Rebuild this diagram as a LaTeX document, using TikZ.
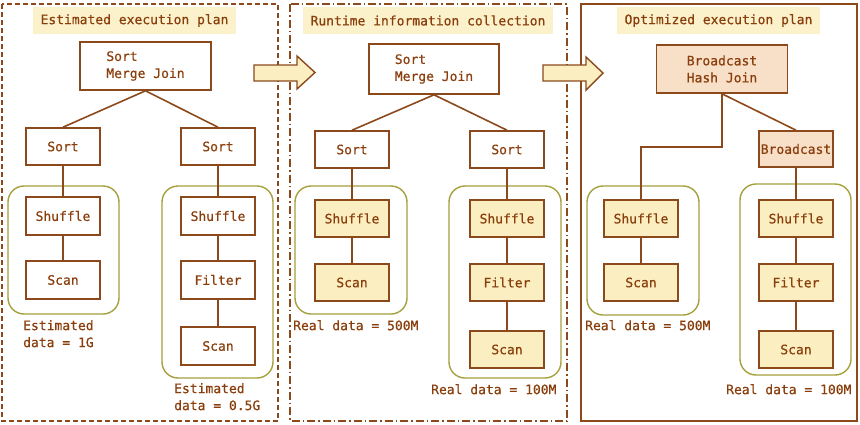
\documentclass[tikz,border=0pt]{standalone}
\usepackage{fontspec}
\newfontfamily\opfont{DejaVu Sans Mono}[FakeBold=0.6]
\definecolor{txt}{HTML}{8A3E0C}
\definecolor{edge}{HTML}{8C4A1C}
\definecolor{ylw}{HTML}{FBEFC2}
\definecolor{peach}{HTML}{F8E0C8}
\definecolor{olive}{HTML}{A4A03C}
\definecolor{ttl}{HTML}{FBF2CC}
\tikzset{
  lbl/.style={font=\opfont\fontsize{13}{17}\selectfont, text=txt},
  opbox/.style={lbl, draw=edge, line width=1.6pt, inner sep=0pt, minimum width=74pt, minimum height=37pt},
  ybox/.style={opbox, fill=ylw},
  pbox/.style={opbox, fill=peach},
  titlebox/.style={lbl, fill=ttl, inner sep=0pt, minimum width=203pt, minimum height=27pt},
  cont/.style={draw=olive, line width=1.4pt, rounded corners=16pt},
  conn/.style={draw=edge, line width=1.6pt},
  note/.style={lbl, anchor=north west, align=left, inner sep=0pt},
  blockarrow/.style={fill=ylw, draw=edge, line width=1.4pt, line join=miter},
}
\begin{document}
\begin{tikzpicture}[x=1pt,y=-1pt]
\useasboundingbox (0,0) rectangle (860,424);
% panels
\draw[edge, line width=1.3pt, dash pattern=on 5pt off 3pt] (2,4) rectangle (278,421);
\draw[edge, line width=1.3pt, dash pattern=on 8pt off 3pt on 1.5pt off 3pt] (290,4) rectangle (567,421);
\draw[edge, line width=1.4pt] (581,4) rectangle (857,421);
% containers
\draw[cont] (8,186) rectangle (119,314);
\draw[cont] (162,186) rectangle (273,378);
\draw[cont] (295,186) rectangle (407,314);
\draw[cont] (449,186) rectangle (561,378);
\draw[cont] (587,186) rectangle (699,315);
\draw[cont] (740,184) rectangle (851,375);
% titles
\node[titlebox] (t1) at (134.5,20.5) {Estimated execution plan};
\node[titlebox, minimum width=250pt] (t2) at (428,20.5) {Runtime information collection};
\node[titlebox] (t3) at (718.5,20.5) {Optimized execution plan};
% panel 1
\node[opbox, minimum width=131pt, minimum height=48pt, align=left] (smj1) at (145.5,66) {Sort\\Merge Join};
\node[opbox] (sortL1) at (63,146.5) {Sort};
\node[opbox] (sortR1) at (218,146.5) {Sort};
\node[opbox, minimum height=38pt] (shufL1) at (63,216) {Shuffle};
\node[opbox, minimum height=38pt] (scanL1) at (63,280) {Scan};
\node[opbox, minimum height=38pt] (shufR1) at (218,216) {Shuffle};
\node[opbox, minimum height=38pt] (filtR1) at (218,280) {Filter};
\node[opbox, minimum height=38pt] (scanR1) at (218,346) {Scan};
\node[note] (n1) at (23,320) {Estimated\\data = 1G};
\node[note] (n2) at (174,383) {Estimated\\data = 0.5G};
\draw[conn] (smj1.south) -- (sortL1.north);
\draw[conn] (smj1.south) -- (sortR1.north);
\draw[conn] (sortL1) -- (shufL1);
\draw[conn] (shufL1) -- (scanL1);
\draw[conn] (sortR1) -- (shufR1);
\draw[conn] (shufR1) -- (filtR1);
\draw[conn] (filtR1) -- (scanR1);
% panel 2
\node[opbox, minimum width=130pt, minimum height=50pt, align=left] (smj2) at (434,69) {Sort\\Merge Join};
\node[opbox] (sortL2) at (352,149.5) {Sort};
\node[opbox] (sortR2) at (507,149.5) {Sort};
\node[ybox] (shufL2) at (352,218.5) {Shuffle};
\node[ybox] (scanL2) at (352,282.5) {Scan};
\node[ybox] (shufR2) at (507,218.5) {Shuffle};
\node[ybox] (filtR2) at (507,282.5) {Filter};
\node[ybox] (scanR2) at (507,349.5) {Scan};
\node[note] (n3) at (293,320) {Real data = 500M};
\node[note] (n4) at (431,384) {Real data = 100M};
\draw[conn] (smj2.south) -- (sortL2.north);
\draw[conn] (smj2.south) -- (sortR2.north);
\draw[conn] (sortL2) -- (shufL2);
\draw[conn] (shufL2) -- (scanL2);
\draw[conn] (sortR2) -- (shufR2);
\draw[conn] (shufR2) -- (filtR2);
\draw[conn] (filtR2) -- (scanR2);
% panel 3
\node[pbox, minimum width=131pt, minimum height=48pt, align=center] (bhj) at (722,69) {Broadcast\\Hash Join};
\node[pbox, minimum width=74pt, minimum height=36pt] (bc) at (796,149) {Broadcast};
\node[ybox] (shufL3) at (641,218.5) {Shuffle};
\node[ybox] (scanL3) at (641,282.5) {Scan};
\node[ybox] (shufR3) at (796,218.5) {Shuffle};
\node[ybox] (filtR3) at (796,282.5) {Filter};
\node[ybox] (scanR3) at (796,349.5) {Scan};
\node[note] (n5) at (585,320) {Real data = 500M};
\node[note] (n6) at (726,384) {Real data = 100M};
\draw[conn] (bhj.south) -- (bc.north);
\draw[conn] (bhj.south) -- ++(0,53) -| (shufL3.north);
\draw[conn] (bc) -- (shufR3);
\draw[conn] (shufL3) -- (scanL3);
\draw[conn] (shufR3) -- (filtR3);
\draw[conn] (filtR3) -- (scanR3);
% block arrows
\draw[blockarrow] (254,65) -- (297,65) -- (297,56) -- (315,72.5) -- (297,89) -- (297,81) -- (254,81) -- cycle;
\draw[blockarrow] (543,65) -- (586,65) -- (586,57) -- (603,73) -- (586,90) -- (586,81) -- (543,81) -- cycle;
\end{tikzpicture}
\end{document}
